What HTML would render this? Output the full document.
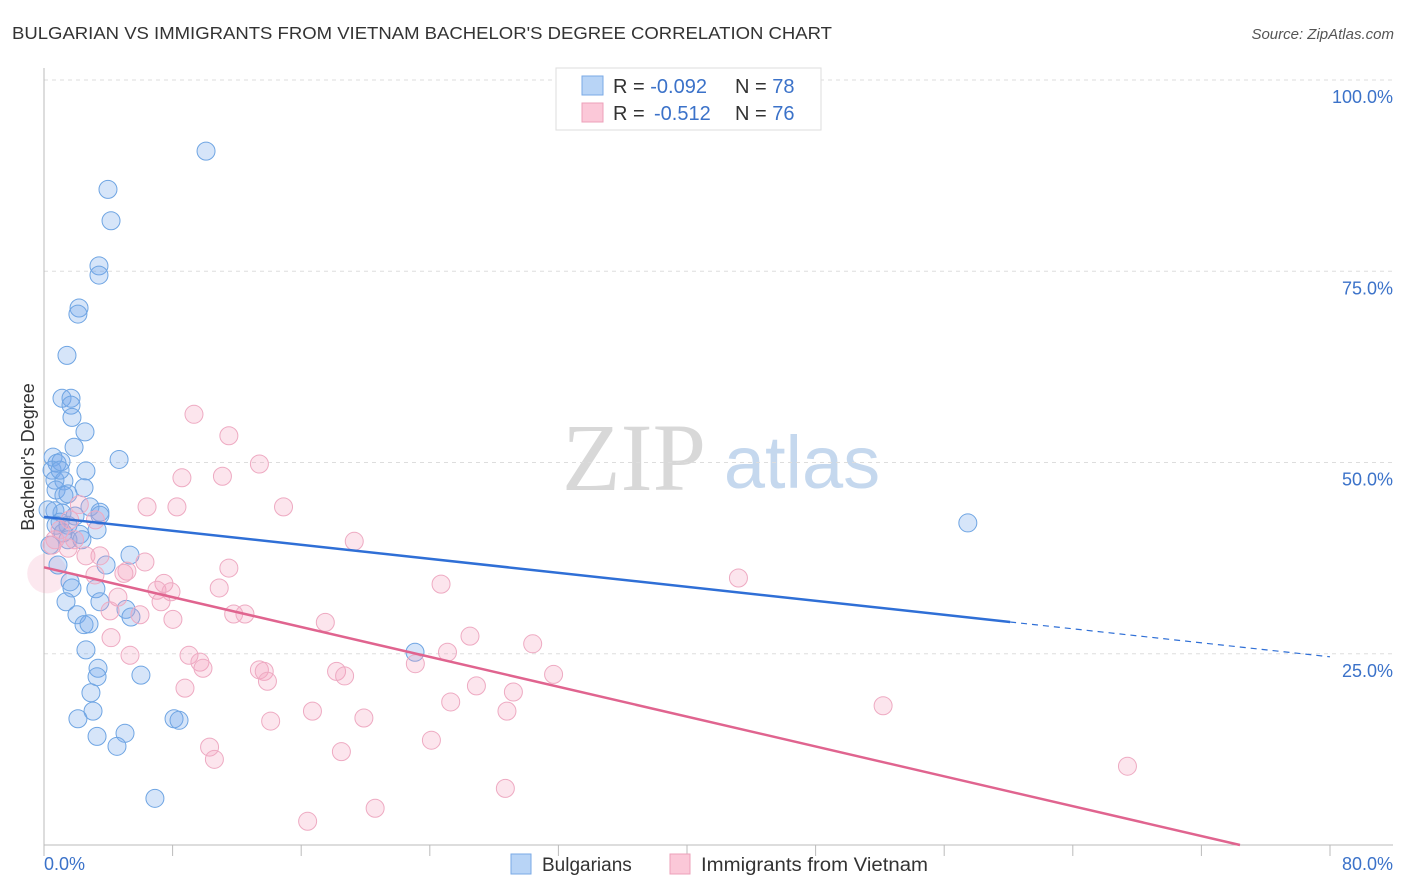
<!DOCTYPE html>
<html><head><meta charset="utf-8"><style>
body{margin:0;background:#fff;font-family:"Liberation Sans",sans-serif}
svg{display:block}
</style></head><body>
<svg id="c" width="1406" height="892" xmlns="http://www.w3.org/2000/svg">
<text x="12" y="39" font-size="17.5" fill="#333" textLength="820" lengthAdjust="spacingAndGlyphs">BULGARIAN VS IMMIGRANTS FROM VIETNAM BACHELOR'S DEGREE CORRELATION CHART</text>
<text x="1394" y="39" font-size="15" fill="#555" font-style="italic" text-anchor="end">Source: ZipAtlas.com</text>
<g>
<text x="634" y="490" font-size="96" font-family="Liberation Serif,serif" fill="#d8d8d8" text-anchor="middle">ZIP</text>
<text x="802" y="488" font-size="74" fill="#c5d8ee" text-anchor="middle">atlas</text>
</g>
<g id="grid"></g>
<g id="axes"></g>
<g id="pts"></g>
<g id="trend"></g>
<text transform="translate(34,457) rotate(-90)" font-size="18" fill="#333" text-anchor="middle">Bachelor's Degree</text>
<text x="44" y="870" font-size="18" fill="#3b72c9">0.0%</text>
<text x="1393" y="870" font-size="18" fill="#3b72c9" text-anchor="end">80.0%</text>
<g>
<rect x="556" y="68" width="265" height="62" fill="#fff" stroke="#ddd"/>
<rect x="582" y="76" width="21" height="19" fill="#b8d4f6" stroke="#7aaae6"/>
<rect x="582" y="103" width="21" height="19" fill="#fbc8d8" stroke="#eda0ba"/>
<text x="613" y="93" font-size="20" fill="#333">R = <tspan fill="#3b72c9">-0.092</tspan><tspan x="735">N = </tspan><tspan fill="#3b72c9">78</tspan></text>
<text x="613" y="120" font-size="20" fill="#333">R = <tspan x="654" fill="#3b72c9">-0.512</tspan><tspan x="735">N = </tspan><tspan fill="#3b72c9">76</tspan></text>
</g>
<g>
<rect x="511" y="854" width="20" height="20" fill="#b8d4f6" stroke="#7aaae6"/>
<text x="542" y="871" font-size="19" fill="#333">Bulgarians</text>
<rect x="670" y="854" width="20" height="20" fill="#fbc8d8" stroke="#eda0ba"/>
<text x="701" y="871" font-size="19" fill="#333" textLength="227" lengthAdjust="spacingAndGlyphs">Immigrants from Vietnam</text>
</g>
</svg>
<script>
const yTicks=[25,50,75,100];
const yTickLabels=["25.0%","50.0%","75.0%","100.0%"];
const xTicks=[0,8,16,24,32,40,48,56,64,72,80];
const blueX=[10.08,3.98,4.17,3.42,3.42,2.18,2.11,1.43,1.12,1.68,1.68,1.74,2.55,1.87,4.67,0.56,0.81,0.5,1.06,2.61,0.68,1.24,2.49,0.75,1.24,1.49,2.86,3.48,0.68,1.12,1.93,1.0,1.49,3.3,1.18,2.24,1.49,2.36,5.35,0.87,3.86,1.62,1.74,3.23,1.37,3.48,5.1,5.41,2.05,2.49,2.8,2.61,3.36,3.3,6.03,2.92,3.05,2.11,8.09,8.4,3.3,5.04,4.54,6.9,23.08,57.47,0.37,0.25,1.0,0.75,3.48];
const blueY=[90.7,85.7,81.6,75.7,74.5,70.2,69.4,64.0,58.4,58.4,57.5,55.9,54.0,52.0,50.4,50.7,49.9,49.0,50.1,48.9,47.7,47.6,46.7,46.4,45.7,45.9,44.2,43.5,43.7,43.4,43.0,42.2,41.8,41.2,40.8,40.6,39.9,39.9,37.9,36.6,36.6,34.4,33.6,33.5,31.8,31.8,30.8,29.8,30.1,28.8,28.9,25.5,23.1,22.0,22.2,19.9,17.5,16.5,16.5,16.3,14.2,14.6,12.9,6.1,25.2,42.1,39.2,43.8,49.0,41.8,43.1];
const pinkX=[9.33,11.5,13.4,11.1,8.58,6.41,8.27,14.9,19.3,43.2,24.7,11.5,6.28,5.16,4.97,3.17,3.48,2.61,7.46,7.03,7.9,10.9,4.6,7.28,4.11,5.97,8.02,11.8,12.5,17.5,26.5,30.4,4.17,5.35,9.02,9.7,9.89,23.1,25.1,13.4,13.7,13.9,18.2,18.7,31.7,26.9,29.2,8.77,25.3,28.8,16.7,52.2,19.9,14.1,24.1,10.3,10.6,18.5,67.4,20.6,28.7,16.4,0.5,0.68,1.0,1.6,1.9,1.5,2.2,3.2];
const pinkY=[56.3,53.5,49.8,48.2,48.0,44.2,44.2,44.2,39.7,34.9,34.1,36.2,37.0,35.8,35.5,35.3,37.8,37.8,34.2,33.3,33.1,33.6,32.4,31.8,30.6,30.1,29.5,30.2,30.2,29.1,27.3,26.3,27.1,24.8,24.8,23.9,23.1,23.7,25.2,22.9,22.7,21.4,22.7,22.1,22.3,20.8,20.0,20.5,18.7,17.5,17.5,18.2,16.6,16.2,13.7,12.8,11.2,12.2,10.3,4.8,7.4,3.1,39.2,39.9,41.2,42.5,39.9,38.8,44.5,42.5];
const blueTrend=[42.9,24.6];
const blueSolidEnd=60.1;
const pinkTrend=[36.3,0];
const pinkZeroX=74.4;
const NS="http://www.w3.org/2000/svg";
const X=v=>44+v/80*1286, Y=v=>845-v/100*765;
function mk(tag,attrs,parent){const e=document.createElementNS(NS,tag);for(const k in attrs)e.setAttribute(k,attrs[k]);document.getElementById(parent).appendChild(e);return e;}
yTicks.forEach((t,i)=>{
 const g=mk('line',{x1:44,x2:1393,y1:Y(t),y2:Y(t),stroke:'#ddd','stroke-dasharray':'4,4'},'grid');
 
 
 const l=mk('text',{x:1393,y:Y(t)+23,'font-size':18,fill:'#3b72c9','text-anchor':'end'},'grid');
 l.textContent=yTickLabels[i];
 
 
});
const ax=mk('line',{x1:44,x2:1393,y1:845,y2:845,stroke:'#bbb'},'axes');


const ay=mk('line',{x1:44,x2:44,y1:68,y2:845,stroke:'#bbb'},'axes');


xTicks.forEach(t=>{const k=mk('line',{x1:X(t),x2:X(t),y1:845,y2:856,stroke:'#bbb'},'axes');
 
 });
const big=mk('circle',{cx:X(0.2),cy:Y(35.5),r:20,fill:'rgba(240,150,180,0.22)',stroke:'none'},'pts');


blueX.forEach((v,i)=>{const c=mk('circle',{cx:X(v),cy:Y(blueY[i]),r:9,fill:'rgba(120,170,235,0.3)',stroke:'#6fa5e3','stroke-width':1},'pts');
 
 });
pinkX.forEach((v,i)=>{const c=mk('circle',{cx:X(v),cy:Y(pinkY[i]),r:9,fill:'rgba(245,160,190,0.28)',stroke:'#eeaac2','stroke-width':1},'pts');
 
 });
const bAt=x=>blueTrend[0]+(blueTrend[1]-blueTrend[0])*x/80;
const t1=mk('line',{x1:X(0),y1:Y(blueTrend[0]),x2:X(blueSolidEnd),y2:Y(bAt(blueSolidEnd)),stroke:'#2f6fd6','stroke-width':2.5},'trend');


const t2=mk('line',{x1:X(blueSolidEnd),y1:Y(bAt(blueSolidEnd)),x2:X(80),y2:Y(blueTrend[1]),stroke:'#2f6fd6','stroke-width':1.2,'stroke-dasharray':'6,5'},'trend');


const t3=mk('line',{x1:X(0),y1:Y(pinkTrend[0]),x2:X(pinkZeroX),y2:Y(pinkTrend[1]),stroke:'#e0648f','stroke-width':2.5},'trend');


</script>
</body></html>
